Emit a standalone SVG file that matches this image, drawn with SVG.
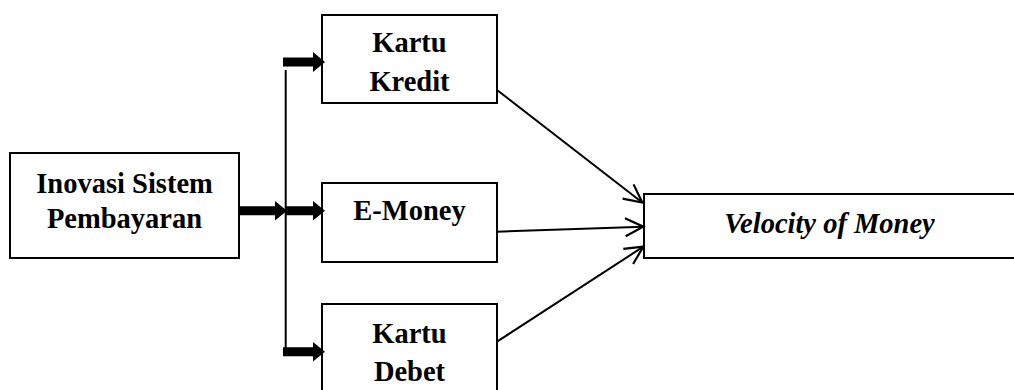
<svg xmlns="http://www.w3.org/2000/svg" width="1014" height="390" viewBox="0 0 1014 390">
<style>
.box{fill:#fff;stroke:#000;stroke-width:2}
.t{font-family:"Liberation Serif","Times New Roman",serif;font-weight:bold;font-size:28.5px;fill:#000;text-anchor:middle}
.i{font-style:italic}
.ln{stroke:#000;stroke-width:2;fill:none}
.thick{fill:#000;stroke:none}
</style>
<defs>
<marker id="open" markerUnits="userSpaceOnUse" markerWidth="24" markerHeight="24" viewBox="-20 -12 24 24" refX="0" refY="0" orient="auto">
<path d="M-18,-9 L0,0 L-18,9" fill="none" stroke="#000" stroke-width="2.2"/>
</marker>
<path id="fat" d="M0,-4.5 L30,-4.5 L30,-10 L42,0 L30,10 L30,4.5 L0,4.5 Z"/>
</defs>
<rect width="1014" height="390" fill="#fff"/>
<g id="inovasi">
<rect class="box" x="10" y="153" width="229" height="105"/>
<text class="t" x="124.5" y="193">Inovasi Sistem</text>
<text class="t" x="124.5" y="228">Pembayaran</text>
</g>
<g id="kredit">
<rect class="box" x="322" y="15" width="175" height="88"/>
<text class="t" x="409.5" y="52">Kartu</text>
<text class="t" x="409.5" y="91">Kredit</text>
</g>
<g id="emoney">
<rect class="box" x="322" y="183" width="175" height="79"/>
<text class="t" x="409.5" y="220">E-Money</text>
</g>
<g id="debet">
<rect class="box" x="322" y="304" width="175" height="100"/>
<text class="t" x="409.5" y="343">Kartu</text>
<text class="t" x="409.5" y="381">Debet</text>
</g>
<g id="velocity">
<rect class="box" x="644" y="194" width="380" height="64"/>
<text class="t i" x="829.5" y="233">Velocity of Money</text>
</g>
<g id="connectors">
<line class="ln" x1="285.7" y1="70" x2="285.7" y2="351"/>
<path class="thick" d="M283,57.5 L313,57.5 L313,52 L325,62 L313,72 L313,66.5 L283,66.5 Z"/>
<path class="thick" d="M239,206.2 L275,206.2 L275,201 L287,210.7 L275,220.5 L275,215.2 L239,215.2 Z"/>
<path class="thick" d="M286,206.2 L313,206.2 L313,201 L325,210.7 L313,220.5 L313,215.2 L286,215.2 Z"/>
<path class="thick" d="M283,347.2 L313,347.2 L313,342 L325,351.7 L313,361.5 L313,356.2 L283,356.2 Z"/>
<line class="ln" x1="497" y1="90" x2="642.3" y2="202.5" marker-end="url(#open)"/>
<line class="ln" x1="497" y1="231.7" x2="643.3" y2="226.7" marker-end="url(#open)"/>
<line class="ln" x1="497" y1="341.7" x2="643.3" y2="246.7" marker-end="url(#open)"/>
</g>
</svg>
